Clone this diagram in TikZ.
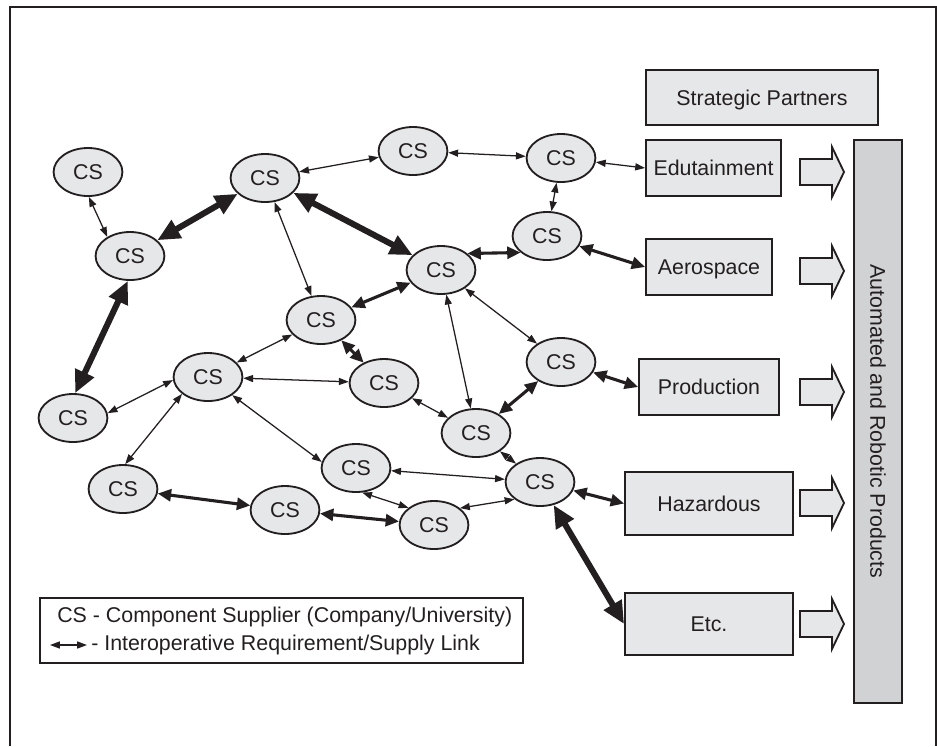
\documentclass[tikz,border=0pt]{standalone}
\usepackage[usenames,dvipsnames,svgnames,table]{xcolor}
\usepackage{fontspec}
\setmainfont{Liberation Sans}
\usepackage{tikz}
\usetikzlibrary{arrows.meta,shapes.geometric}
\definecolor{ink}{HTML}{231F20}
\definecolor{boxgray}{HTML}{E6E7E8}
\definecolor{bargray}{HTML}{D1D2D4}

\begin{document}
\begin{tikzpicture}[x=0.025cm,y=-0.025cm,
  font=\fontsize{15.2}{18}\selectfont, text=ink,
  cs/.style={ellipse,draw=ink,fill=boxgray,line width=1.3pt,minimum width=1.72cm,minimum height=1.2cm,inner sep=0pt,text height=10.9pt,text depth=0pt},
  sector/.style={rectangle,draw=ink,fill=boxgray,line width=1.3pt,inner sep=0pt,text height=10.9pt,text depth=0pt},
  blockarr/.style={draw=ink,fill=boxgray,line width=1.3pt,line join=miter},
  thinlink/.style={draw=ink,line width=0.9pt,{Triangle[length=7pt,width=5pt]}-{Triangle[length=7pt,width=5pt]}},
  midlink/.style={draw=ink,line width=2.2pt,{Triangle[length=9.5pt,width=8.5pt]}-{Triangle[length=9.5pt,width=8.5pt]}},
  thicklink/.style={draw=ink,line width=4.3pt,{Triangle[length=16pt,width=14pt]}-{Triangle[length=16pt,width=14pt]}}]

\useasboundingbox (0,0) rectangle (937,746);

% frame:
\draw[ink,line width=1.2pt] (10,746) -- (10,7) -- (936,7) -- (936,746);

% component suppliers:
\node[cs] (cs1) at (88,172) {CS};
\node[cs] (cs2) at (130,256) {CS};
\node[cs] (cs3) at (265,178) {CS};
\node[cs] (cs4) at (413,151) {CS};
\node[cs] (cs5) at (561,158) {CS};
\node[cs] (cs6) at (547,236) {CS};
\node[cs] (cs7) at (441,270) {CS};
\node[cs] (cs8) at (321,320) {CS};
\node[cs] (cs9) at (384,383) {CS};
\node[cs] (cs10) at (561,362) {CS};
\node[cs] (cs11) at (208,377) {CS};
\node[cs] (cs12) at (73,418) {CS};
\node[cs] (cs13) at (123,489) {CS};
\node[cs] (cs14) at (285,510) {CS};
\node[cs] (cs15) at (356,468) {CS};
\node[cs] (cs16) at (434,525) {CS};
\node[cs] (cs17) at (476,433) {CS};
\node[cs] (cs18) at (540,482) {CS};

% strategic partners:
\node[sector,minimum width=5.8cm,minimum height=1.375cm] (partners) at (762,97.5) {Strategic Partners};
\node[sector,minimum width=3.375cm,minimum height=1.4cm] (edu) at (713.5,168) {Edutainment};
\node[sector,minimum width=3.15cm,minimum height=1.4cm] (aero) at (709,267) {Aerospace};
\node[sector,minimum width=3.5cm,minimum height=1.4cm] (prod) at (709,387) {Production};
\node[sector,minimum width=4.2cm,minimum height=1.575cm] (haz) at (709,503.5) {Hazardous};
\node[sector,minimum width=4.2cm,minimum height=1.55cm] (etc) at (709,624) {Etc.};
\node[sector,fill=bargray,rotate=-90,minimum width=14.075cm,minimum height=1.2cm] (products) at (878,421.5) {Automated and Robotic Products};

\draw[blockarr] (800,159) -- ++(32,0) -- ++(0,-12) -- ++(12,25) -- ++(-12,25) -- ++(0,-12) -- ++(-32,0) -- cycle;
\draw[blockarr] (800,258) -- ++(32,0) -- ++(0,-12) -- ++(12,25) -- ++(-12,25) -- ++(0,-12) -- ++(-32,0) -- cycle;
\draw[blockarr] (800,379) -- ++(32,0) -- ++(0,-12) -- ++(12,25) -- ++(-12,25) -- ++(0,-12) -- ++(-32,0) -- cycle;
\draw[blockarr] (800,490) -- ++(32,0) -- ++(0,-12) -- ++(12,25) -- ++(-12,25) -- ++(0,-12) -- ++(-32,0) -- cycle;
\draw[blockarr] (800,611) -- ++(32,0) -- ++(0,-12) -- ++(12,25) -- ++(-12,25) -- ++(0,-12) -- ++(-32,0) -- cycle;

% links:
\draw[thinlink] (cs1.-88) -- (cs2.140);
\draw[thicklink] (cs2) -- (cs3);
\draw[thicklink] (cs2.-95) -- (cs12.85);
\draw[thinlink] (cs3) -- (cs4);
\draw[thicklink] (cs3) -- (cs7);
\draw[thinlink] (cs3) -- (cs8);
\draw[thinlink] (cs4) -- (cs5);
\draw[thinlink] (cs5) -- (edu.west);
\draw[thinlink] (cs5) -- (cs6);
\draw[midlink] (cs6.212) -- (cs7.32);
\draw[midlink] (cs6) -- (aero.west);
\draw[midlink] (cs7) -- (cs8);
\draw[thinlink] (cs7) -- (cs10);
\draw[thinlink] (cs7) -- (cs17);
\draw[thinlink] (cs8) -- (cs11);
\draw[midlink] (cs8) -- (cs9);
\draw[thinlink] (cs9) -- (cs11);
\draw[thinlink] (cs9) -- (cs17);
\draw[midlink] (cs10) -- (cs17);
\draw[midlink] (cs10) -- (prod.west);
\draw[thinlink] (cs12.8) -- (cs11.185);
\draw[thinlink] (cs11.213) -- (cs13.85);
\draw[thinlink] (cs11) -- (cs15.170);
\draw[midlink] (cs13) -- (cs14);
\draw[midlink] (cs14) -- (cs16);
\draw[thinlink] (cs15.-76) -- (cs16.146);
\draw[thinlink] (cs15) -- (cs18);
\draw[thinlink] (cs16.33) -- (cs18.214);
\draw[thinlink] (cs17) -- (cs18);
\draw[midlink] (cs18) -- (haz.west);
\draw[thicklink] (cs18) -- (etc.west);

% legend:
\draw[ink,line width=0.8pt] (40,598) rectangle (523,663);
\node[anchor=base west,inner sep=0pt] (legcs) at (57,622) {CS - Component Supplier (Company/University)};
\coordinate (legl) at (50,645);
\coordinate (legr) at (87,645);
\draw[thinlink] (legl) -- (legr);
\node[anchor=base west,inner sep=0pt] (leglink) at (91,650) {- Interoperative Requirement/Supply Link};

\end{tikzpicture}
\end{document}
